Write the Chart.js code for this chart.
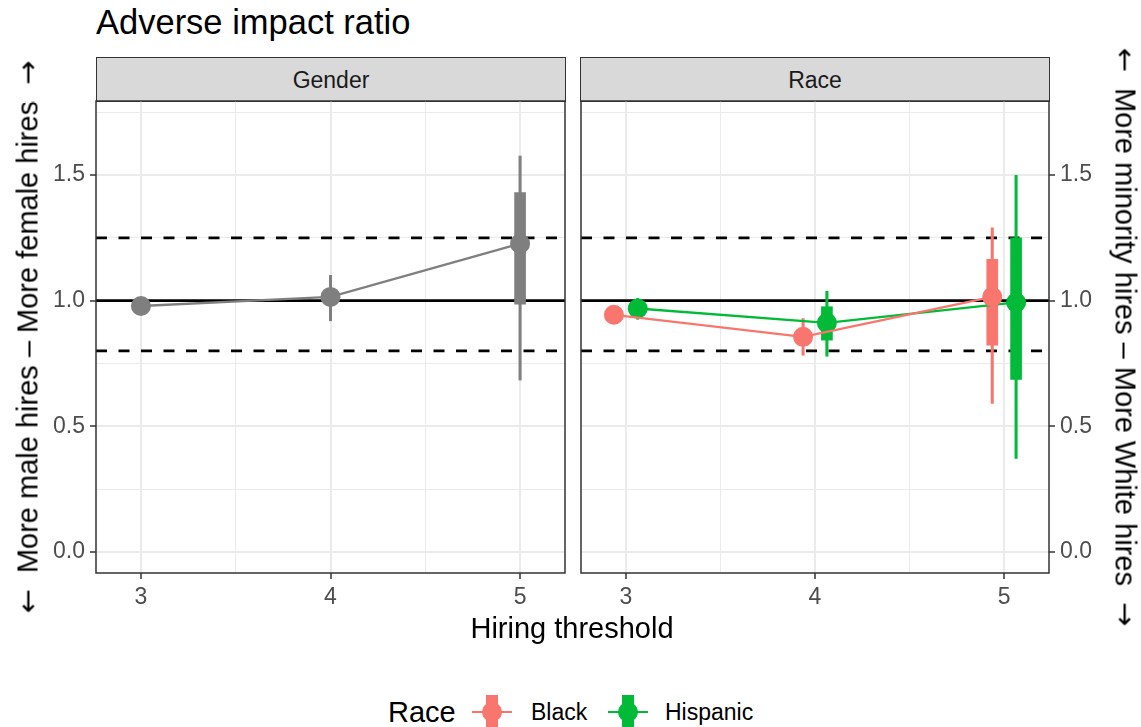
<!DOCTYPE html>
<html>
<head>
<meta charset="utf-8">
<title>Adverse impact ratio</title>
<script src="https://cdn.jsdelivr.net/npm/chart.js@4.4.1/dist/chart.umd.min.js"></script>
<style>
  html, body { margin: 0; padding: 0; background: #fff; }
  body {
    width: 1141px; height: 727px; position: relative; overflow: hidden;
    font-family: "Liberation Sans", Arial, sans-serif; color: #000;
  }
  .abs { position: absolute; white-space: pre; line-height: 1; }
  #title { left: 96px; top: 5px; font-size: 34.5px; }
  .strip {
    position: absolute; top: 57px; height: 45px; width: 470px; padding-top: 2px;
    background: #D9D9D9; border: 1.5px solid #333; box-sizing: border-box;
    font-size: 23px; color: #1A1A1A;
    display: flex; align-items: center; justify-content: center;
  }
  canvas { position: absolute; }
  .ytitle { font-size: 29px; transform: translate(-50%, -50%) rotate(-90deg); }
  .ytitle.right { transform: translate(-50%, -50%) rotate(90deg); }
  .arrow { font-family: "DejaVu Sans", sans-serif; }
  .mid { transform: translate(-50%, -50%); }
  .lgd { transform: translateY(-50%); }
</style>
</head>
<body>
<div id="title" class="abs">Adverse impact ratio</div>
<div class="strip" style="left:96px">Gender</div>
<div class="strip" style="left:580px">Race</div>

<canvas id="gender" width="575" height="530" style="left:0;top:91px"></canvas>
<canvas id="race" width="570" height="530" style="left:571px;top:91px"></canvas>

<div class="abs ytitle" style="left:28px;top:337px"><span class="arrow">←</span>  More male hires – More female hires  <span class="arrow">→</span></div>
<div class="abs ytitle right" style="left:1125px;top:337px"><span class="arrow">←</span>  More minority hires – More White hires  <span class="arrow">→</span></div>
<div class="abs mid" style="left:572px;top:628px;font-size:29px">Hiring threshold</div>

<div class="abs lgd" style="left:388px;top:712px;font-size:29px">Race</div>
<svg class="abs lgd" style="left:472px;top:712px" width="40" height="34">
  <line x1="0" y1="17" x2="40" y2="17" stroke="#F8766D" stroke-width="2.2"/>
  <rect x="14" y="0" width="12" height="34" fill="#F8766D"/>
  <circle cx="20" cy="17" r="10" fill="#F8766D"/>
</svg>
<div class="abs lgd" style="left:531px;top:712px;font-size:23px">Black</div>
<svg class="abs lgd" style="left:608px;top:712px" width="40" height="34">
  <line x1="0" y1="17" x2="40" y2="17" stroke="#00BA38" stroke-width="2.2"/>
  <rect x="14" y="0" width="12" height="34" fill="#00BA38"/>
  <circle cx="20" cy="17" r="10" fill="#00BA38"/>
</svg>
<div class="abs lgd" style="left:665px;top:712px;font-size:23px">Hispanic</div>

<script>
// ---- data ----
const thresholds = [3, 4, 5];

const genderRatio   = [0.979, 1.015, 1.227];
const genderOuterLo = [0.955, 0.920, 0.684];
const genderOuterHi = [1.003, 1.101, 1.576];
const genderInnerLo = [0.967, 0.990, 0.986];
const genderInnerHi = [0.991, 1.040, 1.430];

const blackRatio   = [0.944, 0.856, 1.015];
const blackOuterLo = [0.915, 0.783, 0.591];
const blackOuterHi = [0.973, 0.929, 1.290];
const blackInnerLo = [0.930, 0.830, 0.823];
const blackInnerHi = [0.958, 0.882, 1.165];

const hispRatio   = [0.969, 0.912, 0.993];
const hispOuterLo = [0.926, 0.779, 0.372];
const hispOuterHi = [1.009, 1.038, 1.499];
const hispInnerLo = [0.948, 0.843, 0.687];
const hispInnerHi = [0.990, 0.976, 1.250];

const refLines = [0.8, 1.0, 1.25];
const yMajor = [0, 0.5, 1.0, 1.5];
const yMinor = [0.25, 0.75, 1.25, 1.75];
const xMajor = [3, 4, 5];
const xMinor = [3.5, 4.5];

const yLimits = [-0.084, 1.795];
const xLimits = [2.763, 5.237];
const dodge = 0.063;

const COLORS = { gender: '#7F7F7F', black: '#F8766D', hispanic: '#00BA38' };
const FONT = '"Liberation Sans", Arial, sans-serif';

Chart.defaults.font.family = FONT;
Chart.defaults.animation = false;

const panelBorder = {
  id: 'panelBorder',
  afterDatasetsDraw(chart) {
    const { ctx, chartArea: a } = chart;
    ctx.save();
    ctx.strokeStyle = '#333333';
    ctx.lineWidth = 1.5;
    ctx.strokeRect(a.left, a.top, a.right - a.left, a.bottom - a.top);
    ctx.restore();
  }
};

function isMajor(list, v) {
  return list.some(m => Math.abs(m - v) < 1e-9);
}

// reference lines: dashed at 0.8 / 1.25, solid at 1
function refDatasets() {
  return refLines.map(v => ({
    type: 'line',
    data: [{ x: xLimits[0], y: v }, { x: xLimits[1], y: v }],
    borderColor: '#000',
    borderWidth: 2.7,
    borderDash: v === 1 ? [] : [11, 11.5],
    pointRadius: 0,
    order: 9,
  }));
}

// one group: connecting line + points, thin outer range, thick inner range
function groupDatasets(xs, ratio, outerLo, outerHi, innerLo, innerHi, color) {
  return [
    {
      type: 'line',
      data: xs.map((x, i) => ({ x, y: ratio[i] })),
      borderColor: color,
      backgroundColor: color,
      borderWidth: 2.3,
      pointRadius: 10,
      pointBorderWidth: 0,
      pointBackgroundColor: color,
      order: 1,
    },
    {
      type: 'bar',
      data: xs.map((x, i) => ({ x, y: [outerLo[i], outerHi[i]] })),
      backgroundColor: color,
      barThickness: 2.4,
      grouped: false,
      order: 3,
    },
    {
      type: 'bar',
      data: xs.map((x, i) => ({ x, y: [innerLo[i], innerHi[i]] })),
      backgroundColor: color,
      barThickness: 11,
      grouped: false,
      order: 2,
    },
  ];
}

function makePanel(canvasId, side, datasets) {
  const yAxisWidth = side === 'left' ? 96 : 92;
  return new Chart(document.getElementById(canvasId), {
    type: 'line',
    data: { datasets },
    plugins: [panelBorder],
    options: {
      responsive: false,
      events: [],
      layout: {
        padding: side === 'left'
          ? { left: 0, right: 4, top: 10, bottom: 0 }
          : { left: 7, right: 0, top: 10, bottom: 0 },
      },
      plugins: { legend: { display: false }, tooltip: { enabled: false } },
      scales: {
        x: {
          type: 'linear',
          min: xLimits[0],
          max: xLimits[1],
          offset: false,
          afterBuildTicks: s => { s.ticks = [...xMajor, ...xMinor].sort().map(v => ({ value: v })); },
          afterFit: s => { s.height = 48; s.paddingLeft = 0; s.paddingRight = 0; },
          border: { display: false },
          grid: {
            offset: false,
            color: '#EBEBEB',
            lineWidth: c => isMajor(xMajor, c.tick.value) ? 2 : 1,
            tickLength: 6,
            tickWidth: 1.5,
            tickColor: c => isMajor(xMajor, c.tick.value) ? '#333333' : 'rgba(0,0,0,0)',
          },
          ticks: {
            autoSkip: false,
            maxRotation: 0,
            padding: 5,
            color: '#4D4D4D',
            font: { size: 23 },
            callback: v => isMajor(xMajor, v) ? String(v) : '',
          },
        },
        y: {
          type: 'linear',
          position: side,
          min: yLimits[0],
          max: yLimits[1],
          afterBuildTicks: s => { s.ticks = [...yMajor, ...yMinor].sort().map(v => ({ value: v })); },
          afterFit: s => { s.width = yAxisWidth; s.paddingTop = 0; s.paddingBottom = 0; },
          border: { display: false },
          grid: {
            color: '#EBEBEB',
            lineWidth: c => isMajor(yMajor, c.tick.value) ? 2 : 1,
            tickLength: 6,
            tickWidth: 1.5,
            tickColor: c => isMajor(yMajor, c.tick.value) ? '#333333' : 'rgba(0,0,0,0)',
          },
          ticks: {
            autoSkip: false,
            padding: 5,
            color: '#4D4D4D',
            font: { size: 23 },
            callback: v => isMajor(yMajor, v) ? v.toFixed(1) : '',
          },
        },
      },
    },
  });
}

makePanel('gender', 'left', [
  ...refDatasets(),
  ...groupDatasets(thresholds, genderRatio, genderOuterLo, genderOuterHi,
    genderInnerLo, genderInnerHi, COLORS.gender),
]);

makePanel('race', 'right', [
  ...refDatasets(),
  ...groupDatasets(thresholds.map(t => t - dodge), blackRatio, blackOuterLo, blackOuterHi,
    blackInnerLo, blackInnerHi, COLORS.black),
  ...groupDatasets(thresholds.map(t => t + dodge), hispRatio, hispOuterLo, hispOuterHi,
    hispInnerLo, hispInnerHi, COLORS.hispanic),
]);
</script>
</body>
</html>
